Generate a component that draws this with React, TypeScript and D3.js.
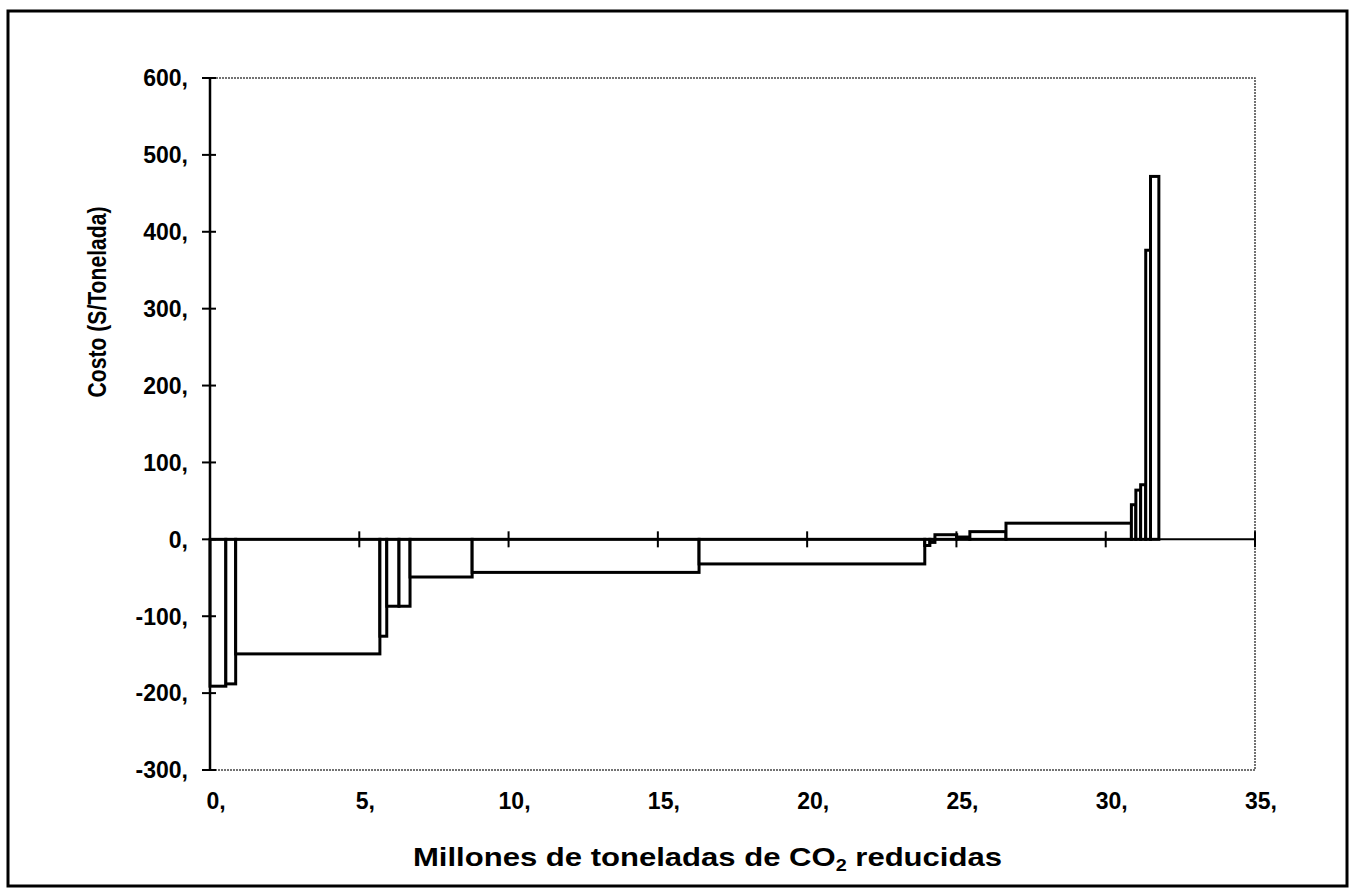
import React from "react";
import * as d3 from "d3";

// Cumulative reduction (millions of tonnes CO2) at the right edge of each measure
const xEnds: number[] = [0.53, 0.86, 5.69, 5.92, 6.33, 6.7, 8.78, 16.38, 23.94, 24.11, 24.28, 25.01, 25.45, 26.66, 30.86, 31.01, 31.17, 31.34, 31.5, 31.78];
// Cost ($/tonne) of each measure
const costs: number[] = [-191, -188, -149, -126, -87, -87, -49, -43, -32, -8, -4, 6, 3, 10, 21, 45, 64, 71, 376, 472];

const xTicks: number[] = [0, 5, 10, 15, 20, 25, 30, 35];
const yTicks: number[] = [600, 500, 400, 300, 200, 100, 0, -100, -200, -300];

const W = 1353;
const H = 892;
const plot = { left: 210, right: 1255, top: 78, bottom: 770 };
const FONT = "'Liberation Sans', Arial, Helvetica, sans-serif";

export default function App() {
  const x = d3.scaleLinear().domain([0, 35]).range([plot.left, plot.right]);
  const y = d3.scaleLinear().domain([-300, 600]).range([plot.bottom, plot.top]);

  const bars = costs.map((c, i) => {
    const x0 = i === 0 ? 0 : xEnds[i - 1];
    const x1 = xEnds[i];
    return { x0, x1, c };
  });

  return (
    <svg
      width={W}
      height={H}
      style={{ position: "absolute", left: 0, top: 0, background: "#fff" }}
      fontFamily={FONT}
    >
      <rect x={0} y={0} width={W} height={H} fill="#fff" />
      {/* outer frame */}
      <rect x={8} y={11} width={1339} height={875} fill="none" stroke="#000" strokeWidth={3} />

      {/* plot area border (dotted) */}
      <rect
        x={plot.left}
        y={plot.top}
        width={plot.right - plot.left}
        height={plot.bottom - plot.top}
        fill="none"
        stroke="#444"
        strokeWidth={1.5}
        strokeDasharray="2,1"
      />

      {/* bars */}
      {bars.map((b, i) => (
        <rect
          key={i}
          x={x(b.x0)}
          y={Math.min(y(0), y(b.c))}
          width={x(b.x1) - x(b.x0)}
          height={Math.abs(y(b.c) - y(0))}
          fill="#fff"
          stroke="#000"
          strokeWidth={3}
        />
      ))}

      {/* zero line (x axis) */}
      <line x1={plot.left} x2={plot.right} y1={y(0)} y2={y(0)} stroke="#000" strokeWidth={2} />
      {xTicks.map((t) => (
        <line key={"xt" + t} x1={x(t)} x2={x(t)} y1={y(0) - 8} y2={y(0) + 8} stroke="#000" strokeWidth={2} />
      ))}

      {/* y axis */}
      <line x1={plot.left} x2={plot.left} y1={plot.top} y2={plot.bottom} stroke="#000" strokeWidth={2.5} />
      {yTicks.map((t) => (
        <line key={"yt" + t} x1={plot.left - 8} x2={plot.left + 6} y1={y(t)} y2={y(t)} stroke="#000" strokeWidth={2} />
      ))}

      {/* y tick labels */}
      {yTicks.map((t) => (
        <text
          key={"yl" + t}
          x={188}
          y={y(t)}
          dy="0.36em"
          textAnchor="end"
          fontSize={23}
          fontWeight="bold"
          fill="#000"
        >
          {t + ","}
        </text>
      ))}

      {/* x tick labels */}
      {xTicks.map((t) => (
        <text
          key={"xl" + t}
          x={x(t) + 6}
          y={809}
          textAnchor="middle"
          fontSize={23}
          fontWeight="bold"
          fill="#000"
        >
          {t + ","}
        </text>
      ))}

      {/* y title */}
      <text
        transform="translate(106,302) rotate(-90)"
        textAnchor="middle"
        fontSize={25}
        fontWeight="bold"
        textLength={191}
        lengthAdjust="spacingAndGlyphs"
        fill="#000"
      >
        Costo (S/Tonelada)
      </text>

      {/* x title */}
      <text x={413} y={866} fontSize={25} fontWeight="bold" fill="#000" textLength={589} lengthAdjust="spacingAndGlyphs">
        Millones de toneladas de CO
        <tspan fontSize={16} dy={5}>2</tspan>
        <tspan dy={-5}> reducidas</tspan>
      </text>
    </svg>
  );
}
